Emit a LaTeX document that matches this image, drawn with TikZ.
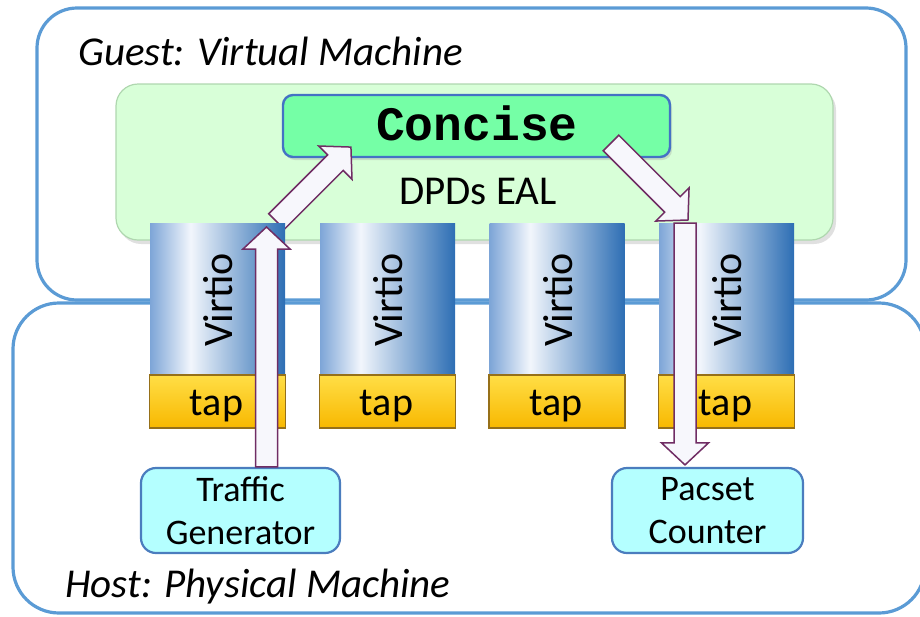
\documentclass[tikz,border=0pt]{standalone}
\usepackage{fontspec}
\setmainfont{Carlito}
\newfontfamily\monof{Liberation Mono}
\usetikzlibrary{calc}
\definecolor{guestblue}{RGB}{91,155,213}
\definecolor{eALfill}{RGB}{216,255,216}
\definecolor{eALdraw}{RGB}{175,215,175}
\definecolor{concfill}{RGB}{117,255,166}
\definecolor{concdraw}{RGB}{68,114,196}
\definecolor{vL}{RGB}{125,165,215}
\definecolor{vW}{RGB}{242,246,252}
\definecolor{vD}{RGB}{45,110,180}
\definecolor{tapTop}{RGB}{255,222,70}
\definecolor{tapBot}{RGB}{248,184,0}
\definecolor{tapDraw}{RGB}{150,112,25}
\definecolor{tgfill}{RGB}{180,255,255}
\definecolor{tgdraw}{RGB}{75,125,190}
\definecolor{arrDraw}{RGB}{112,45,100}
\definecolor{arrFill}{RGB}{247,247,252}
\pgfdeclarehorizontalshading{virtioshade}{100bp}{color(0bp)=(vL); color(25bp)=(vL); color(40bp)=(vW); color(75bp)=(vD); color(100bp)=(vD)}
\newcommand\blockarrow[2]{%
  \draw[barrow] let \p1=(#1), \p2=(#2), \n1={atan2(\y2-\y1,\x2-\x1)}, \n2={veclen(\x2-\x1,\y2-\y1)} in
  [shift={(\p1)}, rotate=\n1] (0pt,-11pt) -- ({\n2*1pt-22pt},-11pt) -- ({\n2*1pt-22pt},-23.5pt) -- ({\n2*1pt},0pt)
  -- ({\n2*1pt-22pt},23.5pt) -- ({\n2*1pt-22pt},11pt) -- (0pt,11pt) -- cycle;}
\begin{document}
\begin{tikzpicture}[x=1pt,y=-1pt,
  lbl/.style={font=\fontsize{41}{48}\selectfont, inner sep=0pt},
  machine/.style={draw=guestblue, line width=3.2pt, rounded corners=40pt, minimum width=#1, inner sep=0pt},
  column/.style={shading=virtioshade, minimum width=135pt, minimum height=152pt, inner sep=0pt},
  tapbox/.style={top color=tapTop, bottom color=tapBot, draw=tapDraw, line width=1.6pt, minimum width=136pt, minimum height=53pt, inner sep=0pt},
  appbox/.style={fill=tgfill, draw=tgdraw, line width=2.2pt, rounded corners=15pt, minimum height=85pt, inner sep=0pt, align=center, font=\fontsize{36}{43}\selectfont},
  barrow/.style={draw=arrDraw, fill=arrFill, line width=1.5pt, line join=miter}]
\clip (0,0) rectangle (920,616);
% machines
\node[machine=869pt, minimum height=292pt] (guest) at (471.5,154) {};
\node[machine=912pt, minimum height=310pt, rounded corners=46pt] (host) at (469,458) {};
\node[lbl, anchor=base west, font=\fontsize{41}{48}\selectfont\itshape] (guestlbl) at (78,65) {Guest: Virtual Machine};
\node[lbl, anchor=base west, font=\fontsize{41}{48}\selectfont\itshape] (hostlbl) at (65,597) {Host: Physical Machine};
% EAL
\fill[black!35, opacity=0.35, rounded corners=22pt] (119,88) rectangle (836,244);
\node[fill=eALfill, draw=eALdraw, line width=1.2pt, rounded corners=22pt, minimum width=717pt, minimum height=156pt, inner sep=0pt] (eal) at (474.5,162) {};
\node[lbl] (eallbl) at (478,204) [anchor=base] {DPDs EAL};
\fill[black!40, opacity=0.3, rounded corners=10pt] (285,98) rectangle (672,160);
\node[fill=concfill, draw=concdraw, line width=2.4pt, rounded corners=10pt, minimum width=387pt, minimum height=62pt, inner sep=0pt] (concise) at (476.5,126) {};
\node[inner sep=0pt, anchor=base, font=\monof\bfseries\fontsize{48}{50}\selectfont] (conclbl) at (477,140) {Concise};
% arrows from/to Concise (drawn under columns)
\coordinate (a2s) at (276.5,221.5);
\coordinate (a2e) at (351,147);
\blockarrow{a2s}{a2e}
\coordinate (a3s) at (611,143);
\coordinate (a3e) at (688,220);
\blockarrow{a3s}{a3e}
% columns and taps
\foreach \i/\x in {1/217.5,2/387.5,3/557,4/726.5}{
  \node[column] (v\i) at (\x,299) {};
  \node[lbl, rotate=90, font=\fontsize{42}{48}\selectfont] (vl\i) at (\x+1,300) {Virtio};
  \node[tapbox] (t\i) at (\x,401.5) {};
  \node[lbl, anchor=base, font=\fontsize{40}{48}\selectfont] (tl\i) at (\x-1,415) {tap};
}
% apps
\node[appbox, minimum width=199pt] (tg) at (240.5,510.5) {Traffic\\Generator};
\node[appbox, minimum width=191pt] (pc) at (707.5,510.5) {Pacset\\Counter};
% vertical arrows
\coordinate (a1s) at ($(tg.north)+(26,0)$);
\coordinate (a1e) at (266.5,227);
\blockarrow{a1s}{a1e}
\coordinate (a4s) at (685,223);
\coordinate (a4e) at ($(pc.north)+(-22.5,-2)$);
\blockarrow{a4s}{a4e}
\end{tikzpicture}
\end{document}
